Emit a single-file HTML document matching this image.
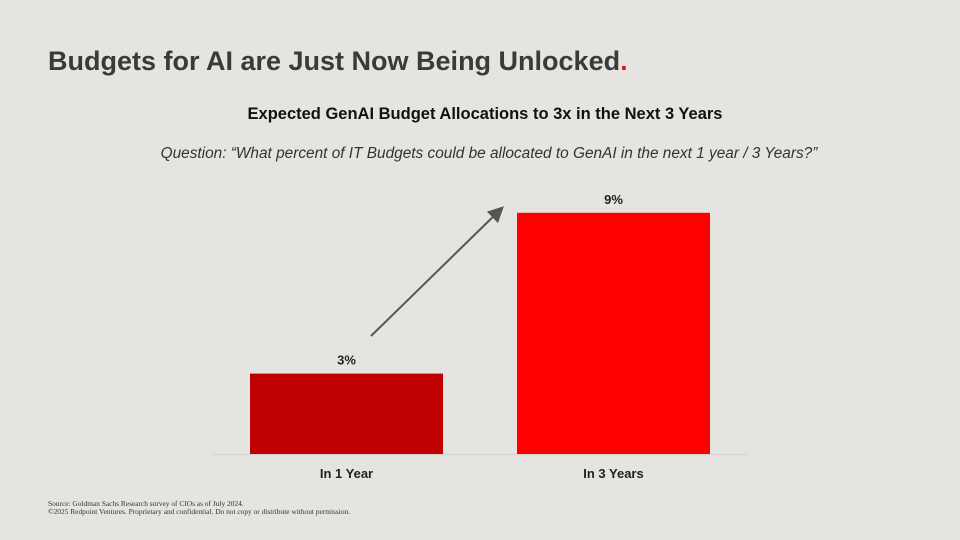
<!DOCTYPE html>
<html><head><meta charset="utf-8"><style>
body{margin:0;width:960px;height:540px;background:#e6e4e0;font-family:"Liberation Sans",sans-serif;overflow:hidden;position:relative}
.t{position:absolute;white-space:nowrap}
</style></head><body>
<div class="t" style="left:48px;top:46px;font-size:27px;font-weight:bold;color:#3a3a3a">Budgets for AI are Just Now Being Unlocked<span style="color:#e8141b">.</span></div>
<div class="t" style="left:0;width:970px;text-align:center;top:105px;font-size:16.5px;font-weight:bold;color:#111">Expected GenAI Budget Allocations to 3x in the Next 3 Years</div>
<div class="t" style="left:0;width:978px;text-align:center;top:145px;font-size:15.4px;font-style:italic;color:#333">Question: “What percent of IT Budgets could be allocated to GenAI in the next 1 year / 3 Years?”</div>
<svg id="c" width="960" height="540" style="position:absolute;left:0;top:0">
<defs><marker id="ah" markerWidth="8" markerHeight="8" refX="6" refY="4" orient="auto"><path d="M0,0 L8,4 L0,8 z" fill="#555"/></marker></defs>
</svg>
<div class="t" style="left:48px;top:500px;font-size:7.4px;font-family:'Liberation Serif',serif;color:#333;line-height:8px">Source: Goldman Sachs Research survey of CIOs as of July 2024.<br>©2025 Redpoint Ventures. Proprietary and confidential. Do not copy or distribute without permission.</div>
<script>
const categories=["In 1 Year","In 3 Years"];
const values=[3,9];
const valueLabels=["3%","9%"];
const colors=["#bf0000","#ff0000"];
const svg=document.getElementById('c');const NS="http://www.w3.org/2000/svg";
const base=454,scale=26.8,bw=193;
const xs=i=>250+i*267;
const ys=v=>base-v*scale;
function mk(t,a){const e=document.createElementNS(NS,t);for(const k in a)e.setAttribute(k,a[k]);svg.appendChild(e);return e;}
const ax=mk('line',{x1:212,x2:748,y1:base+0.5,y2:base+0.5,stroke:'#d6d4d0','stroke-width':1.5});


values.forEach((v,i)=>{
 const r=mk('rect',{x:xs(i),y:ys(v),width:bw,height:base-ys(v),fill:colors[i]});
 
 
 const l=mk('text',{x:xs(i)+bw/2,y:ys(v)-9,'text-anchor':'middle','font-size':13,'font-weight':'bold',fill:'#222','font-family':'Liberation Sans'});
 l.textContent=valueLabels[i];
 
 
 const c=mk('text',{x:xs(i)+bw/2,y:base+24,'text-anchor':'middle','font-size':13,'font-weight':'bold',fill:'#222','font-family':'Liberation Sans'});
 c.textContent=categories[i];
 
 
});
const a=mk('line',{x1:371,y1:336,x2:501,y2:209,stroke:'#555','stroke-width':2,'marker-end':'url(#ah)'});


</script>
</body></html>
